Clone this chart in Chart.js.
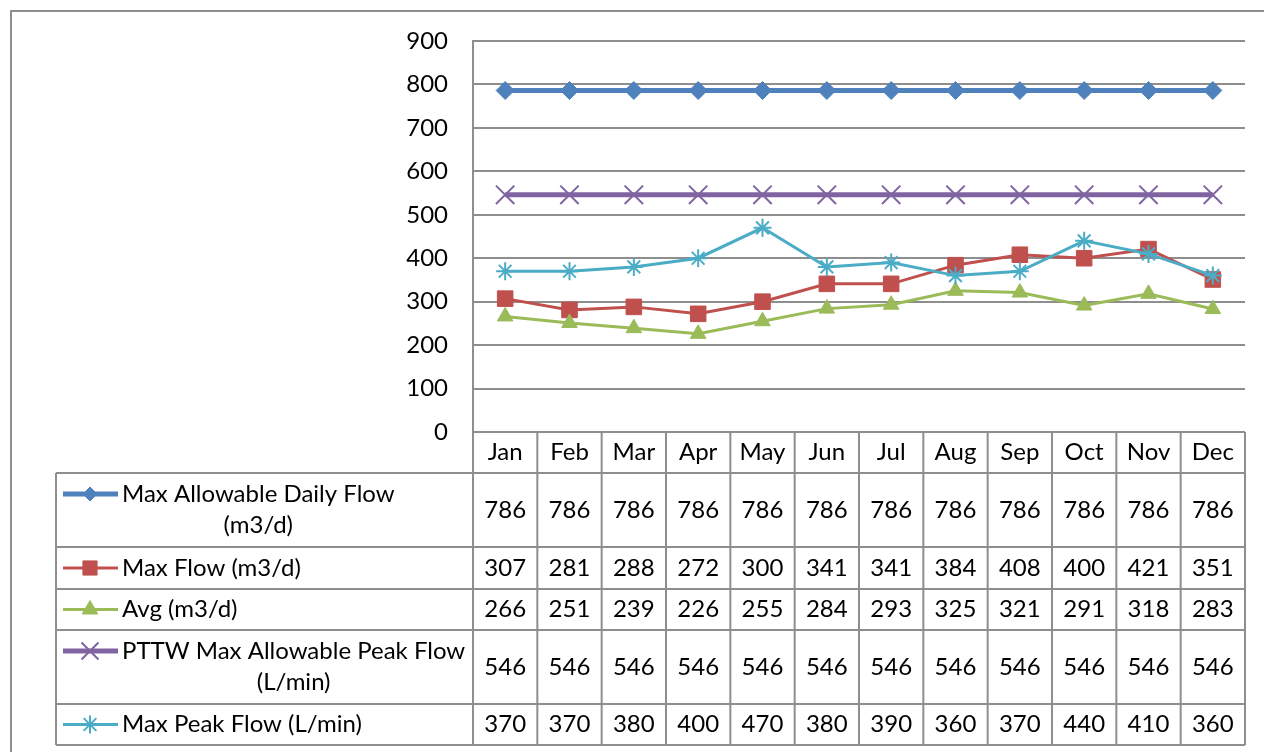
<!DOCTYPE html>
<html>
<head>
<meta charset="utf-8">
<script src="https://cdn.jsdelivr.net/npm/chart.js@4/dist/chart.umd.min.js"></script>
<style>
  body { margin: 0; background: #fff; }
  #wrap { position: relative; width: 1264px; height: 752px; }
</style>
</head>
<body>
<div id="wrap"><canvas id="flowChart"></canvas></div>
<script>
const months = ["Jan","Feb","Mar","Apr","May","Jun","Jul","Aug","Sep","Oct","Nov","Dec"];
const maxAllowableDaily = [786,786,786,786,786,786,786,786,786,786,786,786];
const maxFlow = [307,281,288,272,300,341,341,384,408,400,421,351];
const avgFlow = [266,251,239,226,255,284,293,325,321,291,318,283];
const pttwMaxPeak = [546,546,546,546,546,546,546,546,546,546,546,546];
const maxPeakFlow = [370,370,380,400,470,380,390,360,370,440,410,360];

const seriesNames = [
  ["Max Allowable Daily Flow", "(m3/d)"],
  ["Max Flow (m3/d)"],
  ["Avg (m3/d)"],
  ["PTTW Max Allowable Peak Flow", "(L/min)"],
  ["Max Peak Flow (L/min)"]
];
const yTicks = { min: 0, max: 900, step: 100 };

const font = "24px Lato";
const gridColor = "#8e8e8e";

// table below the plot, drawn from the x scale and the arrays above
const dataTable = {
  id: "dataTable",
  afterDraw(chart) {
    const ctx = chart.ctx;
    const x = chart.scales.x;
    const area = chart.chartArea;
    const colW = (area.right - area.left) / months.length;
    const rowH = [41, 74, 42, 41, 74, 41];
    const tops = [area.bottom];
    rowH.forEach(h => tops.push(tops[tops.length - 1] + h));
    const legLeft = 56;

    ctx.save();
    ctx.strokeStyle = gridColor;
    ctx.lineWidth = 2;
    ctx.beginPath();
    // horizontal lines
    ctx.moveTo(area.left, tops[0]); ctx.lineTo(area.right, tops[0]);
    for (let r = 1; r < tops.length; r++) {
      ctx.moveTo(legLeft, tops[r]); ctx.lineTo(area.right, tops[r]);
    }
    // vertical lines
    for (let c = 0; c <= months.length; c++) {
      const px = area.left + c * colW;
      ctx.moveTo(px, tops[0]); ctx.lineTo(px, tops[tops.length - 1]);
    }
    ctx.moveTo(legLeft, tops[1]); ctx.lineTo(legLeft, tops[tops.length - 1]);
    ctx.stroke();

    ctx.fillStyle = "#000";
    ctx.font = font;
    ctx.textAlign = "center";
    ctx.textBaseline = "middle";
    months.forEach((m, i) => {
      ctx.fillText(m, x.getPixelForValue(i), tops[0] + rowH[0] / 2);
    });

    chart.data.datasets.forEach((ds, d) => {
      const top = tops[d + 1], h = rowH[d + 1];
      const mid = top + h / 2;
      ds.data.forEach((v, i) => {
        ctx.fillStyle = "#000";
        ctx.textAlign = "center";
        ctx.fillText(String(v), x.getPixelForValue(i), mid);
      });
      // legend key
      const lines = seriesNames[d];
      const y1 = lines.length > 1 ? mid - 16 : mid;
      ctx.strokeStyle = ds.borderColor;
      ctx.lineWidth = ds.borderWidth;
      ctx.beginPath();
      ctx.moveTo(63, y1); ctx.lineTo(118, y1);
      ctx.stroke();
      ctx.fillStyle = ds.pointBackgroundColor;
      ctx.strokeStyle = ds.pointBorderColor;
      ctx.lineWidth = ds.pointBorderWidth;
      ctx.beginPath();
      Chart.helpers.drawPoint(ctx, {
        pointStyle: ds.pointStyle,
        radius: ds.legendRadius,
        rotation: 0,
        borderWidth: ds.pointBorderWidth
      }, 90, y1);

      ctx.fillStyle = "#000";
      ctx.textAlign = "left";
      ctx.fillText(lines[0], 122, y1);
      if (lines.length > 1) {
        const w = ctx.measureText(lines[0]).width;
        ctx.textAlign = "center";
        ctx.fillText(lines[1], 122 + w / 2, mid + 15);
      }
    });

    // outer frame
    ctx.strokeStyle = gridColor;
    ctx.lineWidth = 2;
    ctx.beginPath();
    ctx.moveTo(11, 752); ctx.lineTo(11, 11); ctx.lineTo(1264, 11);
    ctx.stroke();
    ctx.restore();
  }
};

function series(data, color, width, style, radius, legendRadius, filled, order) {
  return {
    data: data,
    borderColor: color,
    borderWidth: width,
    pointStyle: style,
    pointRadius: radius,
    legendRadius: legendRadius,
    pointBackgroundColor: color,
    pointBorderColor: color,
    pointBorderWidth: filled ? 1 : 2,
    tension: 0,
    fill: false,
    order: order
  };
}

new Chart("flowChart", {
  type: "line",
  data: {
    labels: months,
    datasets: [
      series(maxAllowableDaily, "#4F81BD", 5, "rectRot", 9, 7, true, 5),
      series(maxFlow, "#C0504D", 3, "rect", 11, 10, true, 4),
      series(avgFlow, "#9BBB59", 3, "triangle", 9, 9, true, 3),
      series(pttwMaxPeak, "#8064A2", 5, "crossRot", 13, 12, false, 2),
      series(maxPeakFlow, "#4BACC6", 3, "star", 9, 9, false, 1)
    ]
  },
  options: {
    responsive: true,
    maintainAspectRatio: false,
    animation: false,
    layout: { padding: { left: 0, top: 41, right: 19, bottom: 320 } },
    plugins: { legend: { display: false }, tooltip: { enabled: false } },
    scales: {
      x: { display: false, offset: true },
      y: {
        min: yTicks.min,
        max: yTicks.max,
        afterFit(scale) { scale.width = 473; },
        ticks: {
          stepSize: yTicks.step,
          padding: 25,
          color: "#000",
          font: { family: "Lato", size: 24 }
        },
        grid: { color: gridColor, lineWidth: 2, drawTicks: false },
        border: { color: gridColor, width: 2 }
      }
    }
  },
  plugins: [dataTable]
});
</script>
</body>
</html>
